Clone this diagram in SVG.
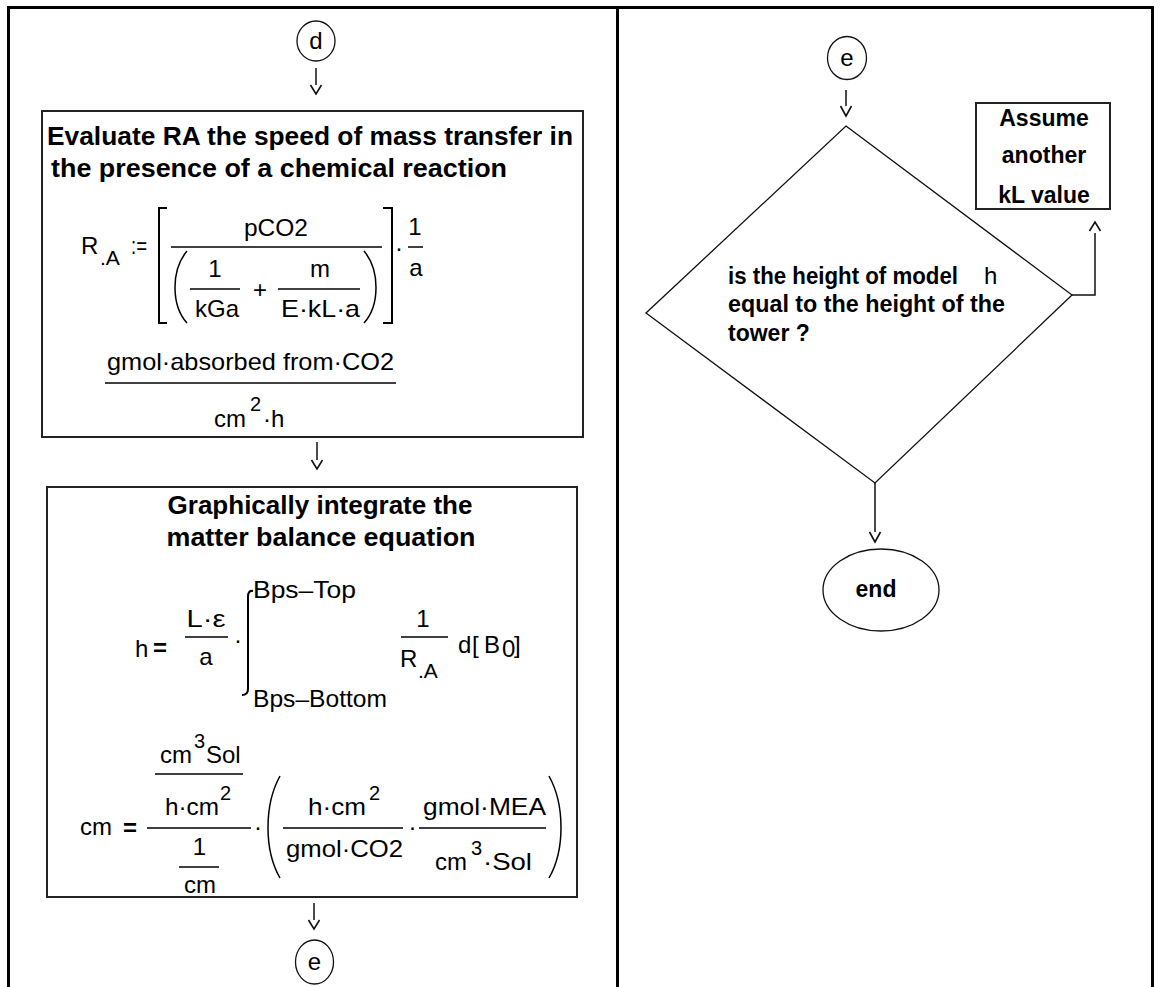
<svg xmlns="http://www.w3.org/2000/svg" width="1160" height="987" viewBox="0 0 1160 987">
<style>
.frame{stroke:#000;stroke-width:3;fill:none}
.box{fill:#fff;stroke:#222;stroke-width:2}
.shape{fill:none;stroke:#111;stroke-width:1.3}
.conn{fill:none;stroke:#111;stroke-width:1.5}
.ah{fill:none;stroke:#111;stroke-width:1.6}
.b{font-family:"Liberation Sans",Arial,sans-serif;font-weight:bold;fill:#000}
.m{font-family:"Liberation Sans",Arial,sans-serif;font-size:24px;fill:#000}
.sub{font-size:21px}
.sup{font-size:20px}
.bar{stroke:#000;stroke-width:1.5}
.br{fill:none;stroke:#000;stroke-width:2}
.pa{fill:none;stroke:#000;stroke-width:1.5}
</style>
<rect width="1160" height="987" fill="#fff"/>
<g id="frame">
<line class="frame" x1="7" y1="7.5" x2="1154" y2="7.5"/>
<line class="frame" x1="8.5" y1="6" x2="8.5" y2="987"/>
<line class="frame" x1="617.5" y1="6" x2="617.5" y2="987"/>
<line class="frame" x1="1152.5" y1="6" x2="1152.5" y2="987"/>
</g>
<g id="connectors">
<line class="conn" x1="316" y1="68" x2="316" y2="85"/>
<polyline class="ah" points="310.5,85 316,94 321.5,85"/>
<line class="conn" x1="317" y1="442" x2="317" y2="460"/>
<polyline class="ah" points="311.5,460 317,469 322.5,460"/>
<line class="conn" x1="314" y1="903" x2="314" y2="920"/>
<polyline class="ah" points="308.5,920 314,929 319.5,920"/>
<line class="conn" x1="846" y1="90" x2="846" y2="106"/>
<polyline class="ah" points="840.5,106 846,116 851.5,106"/>
<polyline class="conn" points="1072,295 1095,295 1095,233"/>
<polyline class="ah" points="1089.5,231 1095,222 1100.5,231"/>
<line class="conn" x1="875" y1="483" x2="875" y2="532"/>
<polyline class="ah" points="869.5,532 875,542 880.5,532"/>
</g>
<g id="node-d">
<ellipse class="shape" cx="316" cy="41" rx="19" ry="20"/>
<text class="m" x="316" y="49" font-size="25" text-anchor="middle">d</text>
</g>
<g id="node-evaluate">
<rect class="box" x="42" y="111" width="541" height="326"/>
<text class="b" x="47" y="145" font-size="26" textLength="526" lengthAdjust="spacingAndGlyphs">Evaluate RA the speed of mass transfer in</text>
<text class="b" x="51" y="177" font-size="26" textLength="456" lengthAdjust="spacingAndGlyphs">the presence of a chemical reaction</text>
<text class="m" x="81" y="254">R</text>
<text class="m sub" x="100" y="265">.A</text>
<text class="m" x="131" y="254" textLength="16" lengthAdjust="spacingAndGlyphs">:=</text>
<path class="br" d="M167,208 H159 V323 H167"/>
<text class="m" x="244" y="236" textLength="64" lengthAdjust="spacingAndGlyphs">pCO2</text>
<line class="bar" x1="171" y1="247" x2="382" y2="247"/>
<path class="pa" d="M187,251 C171,270 171,305 187,323"/>
<text class="m" x="215" y="277" text-anchor="middle">1</text>
<line class="bar" x1="190" y1="289" x2="240" y2="289"/>
<text class="m" x="217" y="317" text-anchor="middle">kGa</text>
<text class="m" x="260" y="298" text-anchor="middle">+</text>
<text class="m" x="320" y="277" text-anchor="middle">m</text>
<line class="bar" x1="278" y1="289" x2="360" y2="289"/>
<text class="m" x="281" y="317" textLength="79" lengthAdjust="spacingAndGlyphs">E·kL·a</text>
<path class="pa" d="M364,251 C380,270 380,305 364,323"/>
<path class="br" d="M383,208 H392 V323 H383"/>
<text class="m" x="399" y="256" text-anchor="middle">·</text>
<text class="m" x="415" y="235" text-anchor="middle">1</text>
<line class="bar" x1="408" y1="247" x2="423" y2="247"/>
<text class="m" x="416" y="276" text-anchor="middle">a</text>
<text class="m" x="107" y="370" textLength="287" lengthAdjust="spacingAndGlyphs">gmol·absorbed from·CO2</text>
<line class="bar" x1="105" y1="383" x2="396" y2="383"/>
<text class="m" x="214" y="427">cm</text>
<text class="m sup" x="250" y="411">2</text>
<text class="m" x="263" y="427">·h</text>
</g>
<g id="node-integrate">
<rect class="box" x="47" y="487" width="530" height="410"/>
<text class="b" x="320" y="514" font-size="26" text-anchor="middle">Graphically integrate the</text>
<text class="b" x="321" y="546" font-size="26" text-anchor="middle" textLength="309" lengthAdjust="spacingAndGlyphs">matter balance equation</text>
<text class="m" x="253" y="598" textLength="103" lengthAdjust="spacingAndGlyphs">Bps–Top</text>
<path class="br" d="M253,591 Q248,590 248,597 V689 Q248,695 242,695"/>
<text class="m" x="135" y="657">h</text>
<text class="m" x="153" y="656" font-weight="bold">=</text>
<text class="m" x="206" y="627" text-anchor="middle" textLength="39" lengthAdjust="spacingAndGlyphs">L·ε</text>
<line class="bar" x1="185" y1="637" x2="228" y2="637"/>
<text class="m" x="206" y="665" text-anchor="middle">a</text>
<text class="m" x="238" y="648" text-anchor="middle">·</text>
<text class="m" x="423" y="627" text-anchor="middle">1</text>
<line class="bar" x1="401" y1="637" x2="448" y2="637"/>
<text class="m" x="400" y="667">R</text>
<text class="m sub" x="418" y="678">.A</text>
<text class="m" x="458" y="653">d</text>
<text class="m" x="472" y="653">[</text>
<text class="m" x="484" y="653">B</text>
<text class="m" x="502" y="657" font-size="17">0</text>
<text class="m" x="514" y="653">]</text>
<text class="m" x="253" y="707" textLength="134" lengthAdjust="spacingAndGlyphs">Bps–Bottom</text>
<text class="m" x="160" y="763">cm</text>
<text class="m sup" x="194" y="748">3</text>
<text class="m" x="206" y="763">Sol</text>
<line class="bar" x1="155" y1="774" x2="243" y2="774"/>
<text class="m" x="165" y="815" textLength="54" lengthAdjust="spacingAndGlyphs">h·cm</text>
<text class="m sup" x="220" y="800">2</text>
<line class="bar" x1="147" y1="828" x2="251" y2="828"/>
<text class="m" x="80" y="835">cm</text>
<text class="m" x="123" y="836" font-weight="bold">=</text>
<text class="m" x="199.5" y="855" text-anchor="middle">1</text>
<line class="bar" x1="179" y1="867" x2="219" y2="867"/>
<text class="m" x="200" y="893" text-anchor="middle">cm</text>
<text class="m" x="258" y="835" text-anchor="middle">·</text>
<path class="pa" d="M280,776 C264,805 264,850 280,878"/>
<text class="m" x="308" y="815" textLength="58" lengthAdjust="spacingAndGlyphs">h·cm</text>
<text class="m sup" x="369" y="800">2</text>
<line class="bar" x1="283" y1="828" x2="403" y2="828"/>
<text class="m" x="286" y="857" textLength="117" lengthAdjust="spacingAndGlyphs">gmol·CO2</text>
<text class="m" x="412.6" y="835" text-anchor="middle">·</text>
<text class="m" x="423" y="815" textLength="123" lengthAdjust="spacingAndGlyphs">gmol·MEA</text>
<line class="bar" x1="419" y1="828" x2="546" y2="828"/>
<text class="m" x="435" y="870">cm</text>
<text class="m sup" x="471" y="855">3</text>
<text class="m" x="483" y="870" textLength="49" lengthAdjust="spacingAndGlyphs">·Sol</text>
<path class="pa" d="M549,776 C565,805 565,850 549,878"/>
</g>
<g id="node-e-left">
<ellipse class="shape" cx="314.5" cy="962" rx="19" ry="22"/>
<text class="m" x="314.5" y="970" font-size="26" text-anchor="middle">e</text>
</g>
<g id="node-e-right">
<ellipse class="shape" cx="847" cy="58" rx="19.5" ry="21.5"/>
<text class="m" x="847" y="66" font-size="26" text-anchor="middle">e</text>
</g>
<g id="node-decision">
<polygon class="shape" points="846,126 1072,295 875,483 646,313"/>
<text class="b" x="728" y="284" font-size="23" textLength="230" lengthAdjust="spacingAndGlyphs">is the height of model</text>
<text class="m" x="984" y="284" font-size="23">h</text>
<text class="b" x="728" y="312" font-size="23" textLength="277" lengthAdjust="spacingAndGlyphs">equal to the height of the</text>
<text class="b" x="728" y="341" font-size="23">tower ?</text>
</g>
<g id="node-assume">
<rect class="box" x="976" y="103" width="134" height="106"/>
<text class="b" x="1044" y="126" font-size="23" text-anchor="middle">Assume</text>
<text class="b" x="1044" y="163" font-size="23" text-anchor="middle">another</text>
<text class="b" x="1044" y="203" font-size="23" text-anchor="middle">kL value</text>
</g>
<g id="node-end">
<ellipse class="shape" cx="881" cy="590" rx="58" ry="41"/>
<text class="b" x="876" y="597" font-size="23" text-anchor="middle">end</text>
</g>
</svg>
